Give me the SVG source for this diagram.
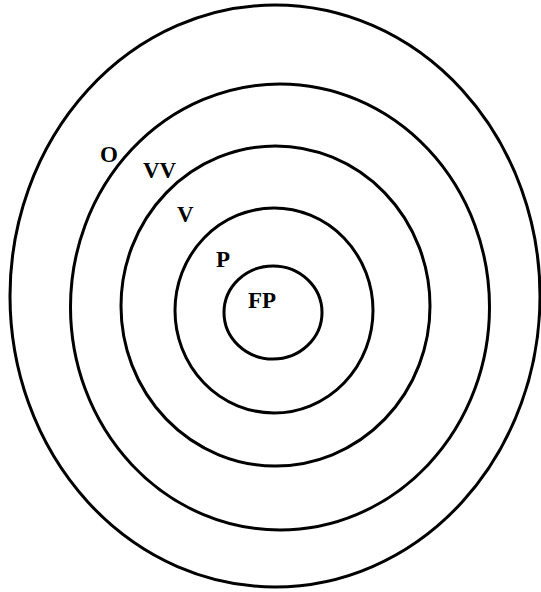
<svg xmlns="http://www.w3.org/2000/svg" width="541" height="592" viewBox="0 0 541 592">
<style>
.ring{fill:none;stroke:#000;stroke-width:3}
.lbl{font-family:"Liberation Serif","Times New Roman",serif;font-weight:bold;font-size:23px;fill:#000}
</style>
<rect width="541" height="592" fill="#fff"/>
<g id="ring-O"><ellipse class="ring" cx="275" cy="296" rx="265" ry="291"/></g>
<g id="ring-VV"><ellipse class="ring" cx="280" cy="307" rx="209.5" ry="223"/></g>
<g id="ring-V"><ellipse class="ring" cx="275.5" cy="306" rx="154.5" ry="160"/></g>
<g id="ring-P"><ellipse class="ring" cx="274" cy="310.5" rx="99" ry="102.5"/></g>
<g id="ring-FP"><ellipse class="ring" cx="273" cy="312.5" rx="49" ry="46.5"/></g>
<g id="labels">
<text class="lbl" x="100" y="162">O</text>
<text class="lbl" x="143" y="178">VV</text>
<text class="lbl" x="177" y="222">V</text>
<text class="lbl" x="216" y="267">P</text>
<text class="lbl" x="248" y="308">FP</text>
</g>
</svg>
